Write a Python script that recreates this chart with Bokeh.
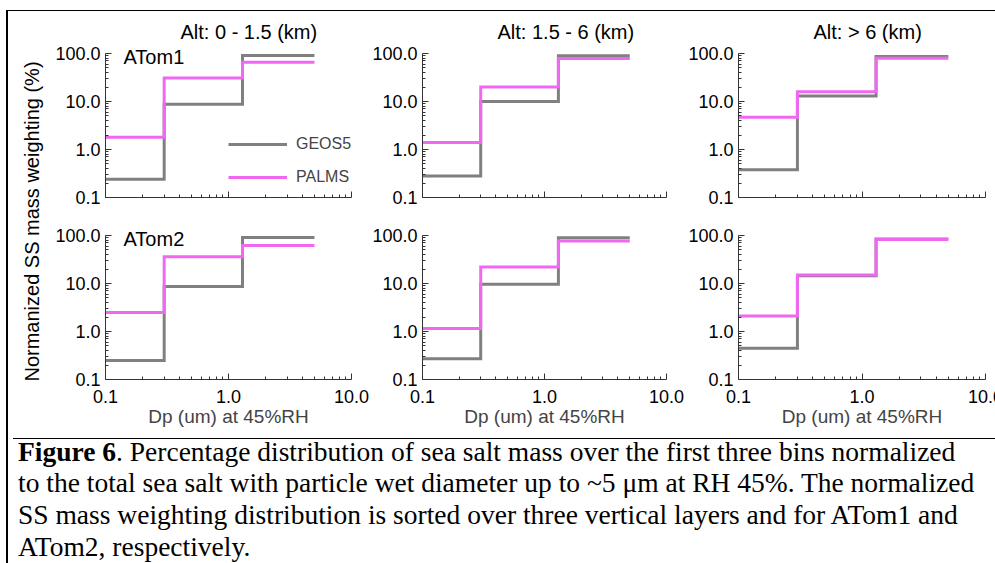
from bokeh.plotting import figure
from bokeh.layouts import row, column
from bokeh.models import (FixedTicker, PrintfTickFormatter, CustomJSTickFormatter, Label,
                          Legend, LegendItem, Div, Range1d, Spacer)
from bokeh.embed import file_html
from bokeh.resources import INLINE

# ---------------- data ----------------
bin_edges = [0.1, 0.3, 1.3, 5.0]            # Dp (um) at 45% RH
alt_titles = ["Alt: 0 - 1.5 (km)", "Alt: 1.5 - 6 (km)", "Alt: > 6 (km)"]
campaigns = ["ATom1", "ATom2"]
series_names = ["GEOS5", "PALMS"]
geos5_atom1 = [[0.24, 8.8, 91.0], [0.28, 10.0, 90.0], [0.38, 13.0, 87.0]]
palms_atom1 = [[1.8, 31.0, 66.0], [1.4, 20.0, 79.0], [4.7, 16.0, 80.0]]
geos5_atom2 = [[0.25, 8.7, 91.0], [0.27, 9.7, 90.0], [0.45, 14.5, 85.0]]
palms_atom2 = [[2.5, 36.0, 62.0], [1.15, 22.0, 77.0], [2.1, 15.0, 83.0]]
y_ticks = [0.1, 1.0, 10.0, 100.0]
x_ticks = [0.1, 1.0, 10.0]
y_label = "Normanized SS mass weighting (%)"
x_label = "Dp (um) at 45%RH"
caption_lines = [
    "<b>Figure 6</b>. Percentage distribution of sea salt mass over the first three bins normalized",
    "to the total sea salt with particle wet diameter up to ~5 \u03bcm at RH 45%. The normalized",
    "SS mass weighting distribution is sorted over three vertical layers and for ATom1 and",
    "ATom2, respectively.",
]

# ---------------- style ----------------
SANS = "Liberation Sans"
GRAY = "#808080"
MAGENTA = "#F068F2"
AXIS = "#333333"

x_minor = [t * k for t in x_ticks[:-1] for k in range(2, 10)]
y_minor = [t * k for t in y_ticks[:-1] for k in range(2, 10)]

DECADE = 48                 # px per decade on the y axis
headroom = [42, 12]         # px of invisible frame above the 100 % tick, per row
lefts = [57, 53, 52]
rights = [18, 19, 18]
frame_w = [246, 244, 248]
tops = [0, 8]
bottoms = [18, 54]


def steps(edges, vals):
    xs, ys = [], []
    for i, v in enumerate(vals):
        xs += [edges[i], edges[i + 1]]
        ys += [v, v]
    return xs, ys


def panel(ci, ri, geos, palms):
    fh = 3 * DECADE + headroom[ri]
    y_top = y_ticks[-1] * 10 ** (headroom[ri] / DECADE)
    p = figure(width=lefts[ci] + frame_w[ci] + rights[ci],
               height=tops[ri] + fh + bottoms[ri],
               x_axis_type="log", y_axis_type="log",
               x_range=Range1d(bin_edges[0], x_ticks[-1]),
               y_range=Range1d(y_ticks[0], y_top),
               output_backend="svg", toolbar_location=None,
               min_border_left=lefts[ci], min_border_right=rights[ci],
               min_border_top=tops[ri], min_border_bottom=bottoms[ri])
    p.outline_line_color = None
    p.grid.visible = False
    p.background_fill_color = "white"
    p.border_fill_color = "white"

    for ax in (p.xaxis[0], p.yaxis[0]):
        ax.axis_line_color = AXIS
        ax.major_tick_line_color = AXIS
        ax.minor_tick_line_color = AXIS
        ax.major_tick_in = 6
        ax.major_tick_out = 0
        ax.minor_tick_in = 3
        ax.minor_tick_out = 0
        ax.major_label_text_font = SANS
        ax.major_label_text_font_size = "18px"
        ax.major_label_text_color = "black"
        ax.formatter = PrintfTickFormatter(format="%.1f")
    p.xaxis.ticker = FixedTicker(ticks=x_ticks, minor_ticks=x_minor)
    p.yaxis.ticker = FixedTicker(ticks=y_ticks, minor_ticks=y_minor)
    p.yaxis.bounds = (y_ticks[0], y_ticks[-1])
    p.yaxis.major_label_standoff = 5
    p.xaxis.major_label_standoff = 10

    if ri == 1:
        p.xaxis.axis_label = x_label
        p.xaxis.axis_label_text_font = SANS
        p.xaxis.axis_label_text_font_size = "19px"
        p.xaxis.axis_label_text_font_style = "normal"
        p.xaxis.axis_label_standoff = 0
    else:
        p.xaxis.formatter = CustomJSTickFormatter(code="return ''")
        p.xaxis.major_label_text_font_size = "0px"
        p.xaxis.major_label_standoff = 0
        p.add_layout(Label(x=bin_edges[0], y=y_ticks[-1], x_offset=75, y_offset=22,
                           text=alt_titles[ci], text_font=SANS, text_font_size="20px",
                           text_baseline="middle", text_color="black"))

    gx, gy = steps(bin_edges, geos)
    px_, py_ = steps(bin_edges, palms)
    r1 = p.line(gx, gy, line_color=GRAY, line_width=3, line_join="miter")
    r2 = p.line(px_, py_, line_color=MAGENTA, line_width=3, line_join="miter")

    if ci == 0:
        p.add_layout(Label(x=bin_edges[0], y=y_ticks[-1], x_offset=18, y_offset=-3,
                           text=campaigns[ri], text_font=SANS, text_font_size="20px",
                           text_baseline="middle", text_color="black"))
    if ci == 0 and ri == 0:
        leg = Legend(items=[LegendItem(label=series_names[0], renderers=[r1]),
                            LegendItem(label=series_names[1], renderers=[r2])],
                     location=(123, 10), padding=0, margin=0, spacing=13,
                     glyph_width=59, glyph_height=20, label_height=20,
                     label_standoff=9, border_line_color=None,
                     background_fill_alpha=0, label_text_font=SANS,
                     label_text_font_size="16px")
        p.add_layout(leg)
    return p


datasets = [[geos5_atom1, palms_atom1], [geos5_atom2, palms_atom2]]
cols = []
for ci in range(3):
    figs = [panel(ci, ri, datasets[ri][0][ci], datasets[ri][1][ci]) for ri in range(2)]
    cols.append(column(*figs))

upper_h = sum(tops) + sum(bottoms) + 2 * 3 * DECADE + sum(headroom)
STRIP_W = 40
strip = figure(width=STRIP_W, height=upper_h, x_range=(0, 1), y_range=(0, 1),
               output_backend="svg", toolbar_location=None, min_border=0)
strip.axis.visible = False
strip.grid.visible = False
strip.outline_line_color = None
strip.add_layout(Label(x=23 / STRIP_W, y=212 / upper_h, text=y_label,
                       angle=90, angle_units="deg", text_align="center",
                       text_baseline="middle", text_font=SANS,
                       text_font_size="20px", text_color="black"))

upper = row(strip, *cols)

CAP_H = 130
caption_html = ('<div style="line-height:26px;margin:0">' + caption_lines[0] + "</div>"
                + '<div style="line-height:32px;margin-top:2px">'
                + "<br>".join(caption_lines[1:]) + "</div>")
caption = Div(text=caption_html, width=985, height=CAP_H,
              styles={"border-top": "1px solid black",
                      "border-right": "1px solid black", "box-sizing": "border-box",
                      "font-family": "'Liberation Serif'", "font-size": "27.5px",
                      "padding": "0px 0px 0px 5px",
                      "white-space": "nowrap", "color": "black"})

inner_h = 1 + upper_h + CAP_H
top_bar = Spacer(width=987, height=1, styles={"background-color": "black"})
left_bar = Spacer(width=2, height=inner_h, styles={"background-color": "black"})

layout = column(Spacer(width=995, height=10),
                row(Spacer(width=6, height=inner_h), left_bar,
                    column(top_bar, upper, caption)),
                width=995, height=563, styles={"overflow": "hidden"})
open("out.html", "w").write(file_html(layout, INLINE))
